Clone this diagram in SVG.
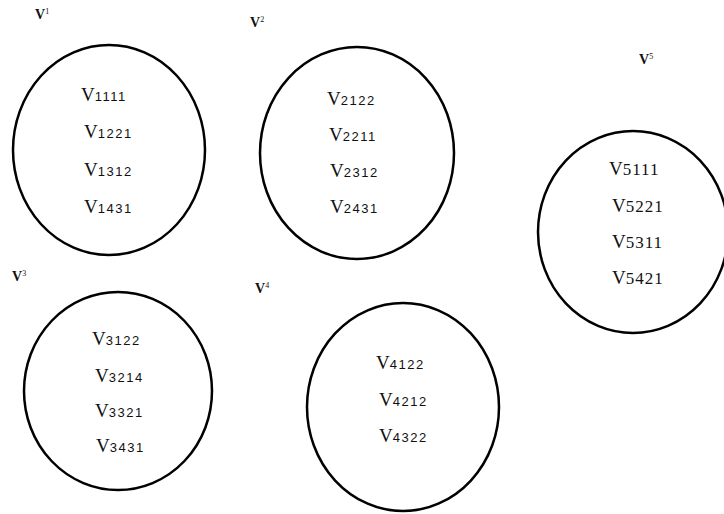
<svg xmlns="http://www.w3.org/2000/svg" width="724" height="514" viewBox="0 0 724 514">
<style>
.e{fill:none;stroke:#000;stroke-width:2.5}
.t{font-family:"Liberation Serif",serif;font-size:19px;fill:#111}
.d{font-family:"Liberation Sans",sans-serif;font-size:13px;letter-spacing:1.5px}
.ds{font-family:"Liberation Serif",serif;font-size:17px;letter-spacing:1px}
.h{font-family:"Liberation Serif",serif;font-size:14px;font-weight:bold;fill:#111}
.s{font-size:8px;font-weight:normal}
</style>
<rect width="724" height="514" fill="#fff"/>
<g id="n1">
<ellipse class="e" cx="109" cy="150" rx="96" ry="105"/>
<text class="h" x="35" y="19">V<tspan class="s" dy="-5">1</tspan></text>
<text class="t" x="81" y="101">V<tspan class="d">1111</tspan></text>
<text class="t" x="84" y="138">V<tspan class="d">1221</tspan></text>
<text class="t" x="84" y="176">V<tspan class="d">1312</tspan></text>
<text class="t" x="84" y="213">V<tspan class="d">1431</tspan></text>
</g>
<g id="n2">
<ellipse class="e" cx="357" cy="153" rx="97" ry="106"/>
<text class="h" x="250" y="27">V<tspan class="s" dy="-5">2</tspan></text>
<text class="t" x="327" y="105">V<tspan class="d">2122</tspan></text>
<text class="t" x="329" y="141">V<tspan class="d">2211</tspan></text>
<text class="t" x="330" y="177">V<tspan class="d">2312</tspan></text>
<text class="t" x="330" y="213">V<tspan class="d">2431</tspan></text>
</g>
<g id="n3">
<ellipse class="e" cx="118" cy="391" rx="94" ry="99"/>
<text class="h" x="12" y="281">V<tspan class="s" dy="-5">3</tspan></text>
<text class="t" x="92" y="345">V<tspan class="d">3122</tspan></text>
<text class="t" x="95" y="382">V<tspan class="d">3214</tspan></text>
<text class="t" x="95" y="417">V<tspan class="d">3321</tspan></text>
<text class="t" x="96" y="452">V<tspan class="d">3431</tspan></text>
</g>
<g id="n4">
<ellipse class="e" cx="403" cy="407" rx="96" ry="104"/>
<text class="h" x="255" y="293">V<tspan class="s" dy="-5">4</tspan></text>
<text class="t" x="376" y="369">V<tspan class="d">4122</tspan></text>
<text class="t" x="379" y="406">V<tspan class="d">4212</tspan></text>
<text class="t" x="379" y="442">V<tspan class="d">4322</tspan></text>
</g>
<g id="n5">
<ellipse class="e" cx="633" cy="232" rx="95" ry="101"/>
<text class="h" x="639" y="64">V<tspan class="s" dy="-5">5</tspan></text>
<text class="t" x="609" y="175">V<tspan class="ds">5111</tspan></text>
<text class="t" x="612" y="212">V<tspan class="ds">5221</tspan></text>
<text class="t" x="612" y="248">V<tspan class="ds">5311</tspan></text>
<text class="t" x="612" y="284">V<tspan class="ds">5421</tspan></text>
</g>
<g id="connectors"/>
</svg>
